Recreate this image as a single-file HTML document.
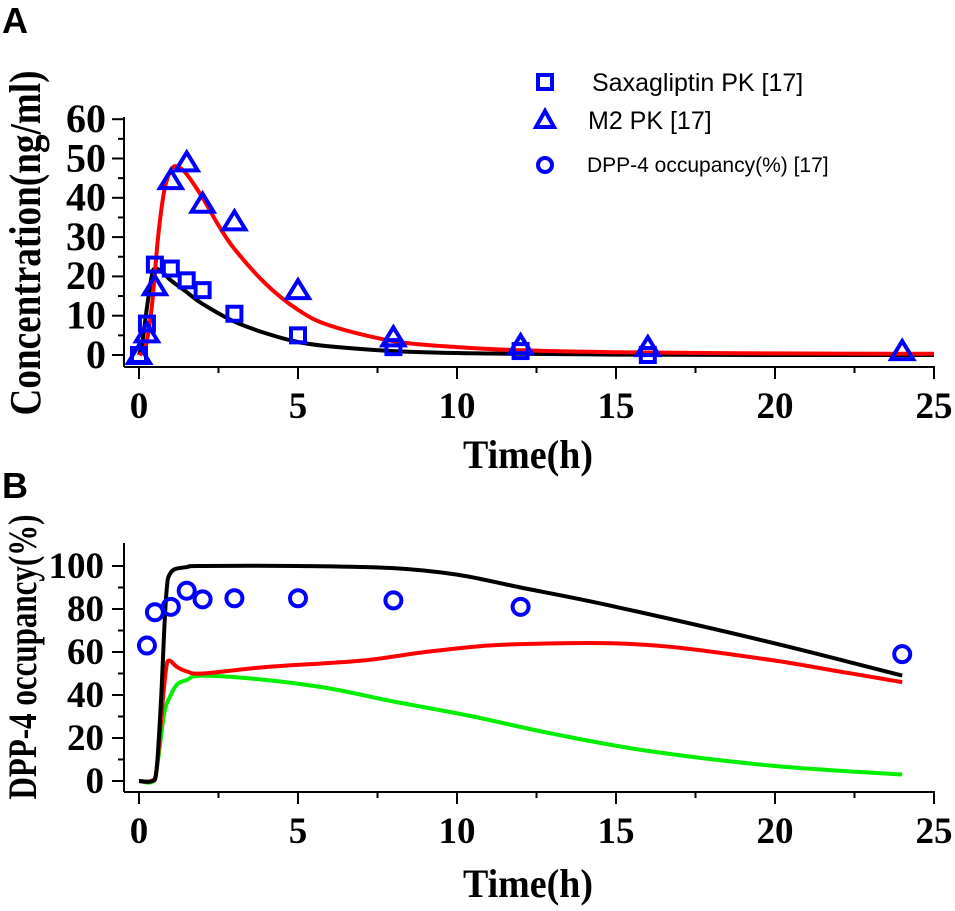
<!DOCTYPE html>
<html><head><meta charset="utf-8"><style>
body{margin:0;background:#fff}
svg{display:block}
.t{font-family:"Liberation Serif",serif;font-weight:bold;fill:#000}
.s{font-family:"Liberation Sans",sans-serif;fill:#000}
</style></head><body>
<svg id="c" width="955" height="911" viewBox="0 0 955 911">
<text x="2" y="33" class="s" font-size="36" font-weight="bold">A</text>
<text x="2" y="498" class="s" font-size="36" font-weight="bold">B</text>
<g id="A"></g>
<g id="B"></g>
<g>
<rect x="538" y="75" width="14" height="14" fill="none" stroke="#00f" stroke-width="4"/>
<text x="592" y="91" class="s" font-size="25">Saxagliptin PK [17]</text>
<polygon points="545,111 536,127 554,127" fill="none" stroke="#00f" stroke-width="4"/>
<text x="588" y="129" class="s" font-size="25">M2 PK [17]</text>
<circle cx="545" cy="165" r="7" fill="none" stroke="#00f" stroke-width="4"/>
<text x="587" y="172" class="s" font-size="21">DPP-4 occupancy(%) [17]</text>
</g>
</svg>
<script>
// Panel A data
const saxT=[0,0.25,0.5,1,1.5,2,3,5,8,12,16];
const saxV=[0,8,23,22,19,16.5,10.5,5,2,1,0];
const m2T=[0,0.25,0.5,1,1.5,2,3,5,8,12,16,24];
const m2V=[0,5.5,17.5,44.5,49,38.5,34,16.5,4.5,2.5,2,1];
const saxFitT=[0,0.1,0.25,0.4,0.5,0.75,1,1.5,2,3,4,5,6,8,10,12,15,20,25];
const saxFitV=[0,3,12,20,22,21,19,16,13,8.5,5.5,3.3,2.2,1,0.5,0.3,0.1,0,0];
const m2FitT=[0,0.2,0.4,0.6,0.8,1,1.2,1.5,2,2.5,3,4,5,6,8,10,12,15,20,25];
const m2FitV=[0,2,12,30,42,47,48,46,40,33,27,18,11.5,7.5,3.5,2,1.2,0.7,0.4,0.3];
const yTicksA=[0,10,20,30,40,50,60];
const xTicks=[0,5,10,15,20,25];
// Panel B data
const occT=[0.25,0.5,1,1.5,2,3,5,8,12,24];
const occV=[63,78.5,81,88.5,84.5,85,85,84,81,59];
const totT=[0,0.4,0.55,0.7,0.85,1,1.5,2,5,8,10,12,15,20,24];
const totV=[0,0,5,40,85,97,99.5,100,100,99,96,90,81,64,49];
const redT=[0,0.4,0.55,0.7,0.85,0.95,1.2,1.5,2,4,7,9,11,13,15,17,20,22,24];
const redV=[0,0,5,30,52,56,53,51,50,53,56,60,63,64,64,62,56,51,46];
const grnT=[0,0.45,0.6,0.8,1,1.2,1.5,2,4,6,8,10.5,13,16,20,24];
const grnV=[0,0,10,32,40,45,47,49,47,43,37,30,22,14,7,3];
const yTicksB=[0,20,40,60,80,100];

const NS="http://www.w3.org/2000/svg";
function el(p,tag,at){const e=document.createElementNS(NS,tag);for(const k in at)e.setAttribute(k,at[k]);p.appendChild(e);return e;}
const xs=v=>139+v*31.8;
const ysA=v=>355-v*3.93;
const ysB=v=>781-v*2.15;

function axes(g,ys,yt,minorStep,axTop,axBot,pfx,o){
  const L=124;
  let e=el(g,'line',{x1:L,y1:axTop,x2:L,y2:axBot,stroke:'#000','stroke-width':2});
  
  
  e=el(g,'line',{x1:L,y1:axBot,x2:935,y2:axBot,stroke:'#000','stroke-width':2});
  
  
  for(let i=0;i<yt.length;i++){
    const y=ys(yt[i]);
    el(g,'line',{x1:L-12,y1:y,x2:L,y2:y,stroke:'#000','stroke-width':2});
    if(i<yt.length-1){const ym=ys(yt[i]+minorStep);el(g,'line',{x1:L-6,y1:ym,x2:L,y2:ym,stroke:'#000','stroke-width':2});}
    const t=el(g,'text',{x:o.yr,y:y+o.yfs*0.32,'text-anchor':'end','font-size':o.yfs,class:'t'});
    t.textContent=yt[i];
    
    
  }
  for(let i=0;i<xTicks.length;i++){
    const x=xs(xTicks[i]);
    el(g,'line',{x1:x,y1:axBot,x2:x,y2:axBot+12,stroke:'#000','stroke-width':2});
    if(i<xTicks.length-1){const xm=xs(xTicks[i]+2.5);el(g,'line',{x1:xm,y1:axBot,x2:xm,y2:axBot+6,stroke:'#000','stroke-width':2});}
    const t=el(g,'text',{x:x,y:axBot+51,'text-anchor':'middle','font-size':37,class:'t'});
    t.textContent=xTicks[i];
    
    
  }
  let t=el(g,'text',{x:528,y:o.xty,'text-anchor':'middle','font-size':40,class:'t',textLength:130,lengthAdjust:'spacingAndGlyphs'});
  t.textContent='Time(h)';
  
  
  t=el(g,'text',{x:0,y:0,'text-anchor':'middle','font-size':o.tfs,class:'t',textLength:o.tlen,lengthAdjust:'spacingAndGlyphs',transform:`translate(${o.tx},${o.tcy}) rotate(-90)`});
  t.textContent=o.title;
  
  
}
function line(g,T,V,ys,color,name){
  const P=T.map((t,i)=>[xs(t),ys(V[i])]);
  let d='M'+P[0][0].toFixed(1)+','+P[0][1].toFixed(1);
  for(let i=0;i<P.length-1;i++){
    const p0=P[Math.max(i-1,0)],p1=P[i],p2=P[i+1],p3=P[Math.min(i+2,P.length-1)];
    const c1=[p1[0]+(p2[0]-p0[0])/6,p1[1]+(p2[1]-p0[1])/6];
    const c2=[p2[0]-(p3[0]-p1[0])/6,p2[1]-(p3[1]-p1[1])/6];
    d+=` C${c1[0].toFixed(1)},${c1[1].toFixed(1)} ${c2[0].toFixed(1)},${c2[1].toFixed(1)} ${p2[0].toFixed(1)},${p2[1].toFixed(1)}`;
  }
  const p=el(g,'path',{d:d,fill:'none',stroke:color,'stroke-width':4,'stroke-linejoin':'round'});
  
  
}
const A=document.getElementById('A'),B=document.getElementById('B');
axes(A,ysA,yTicksA,5,117,367,'panel-a',{yr:106,yfs:40,xty:468,tfs:44,tlen:345,tx:40,tcy:243,title:'Concentration(ng/ml)'});
axes(B,ysB,yTicksB,10,543,792,'panel-b',{yr:104,yfs:37,xty:897,tfs:40,tlen:285,tx:36,tcy:657,title:'DPP-4 occupancy(%)'});
line(A,saxFitT,saxFitV,ysA,'#000','saxagliptin-fit-line');
line(A,m2FitT,m2FitV,ysA,'#f00','m2-fit-line');
for(let i=0;i<saxT.length;i++){
  const x=xs(saxT[i]),y=ysA(saxV[i]);
  const r=el(A,'rect',{x:x-7,y:y-7,width:14,height:14,fill:'none',stroke:'#00f','stroke-width':4});
  
  
}
for(let i=0;i<m2T.length;i++){
  const x=xs(m2T[i]),y=ysA(m2V[i]);
  const p=el(A,'polygon',{points:`${x},${y-10} ${x-11},${y+8} ${x+11},${y+8}`,fill:'none',stroke:'#00f','stroke-width':4});
  
  
}
line(B,grnT,grnV,ysB,'#0e0','green-occupancy-line');
line(B,redT,redV,ysB,'#f00','red-occupancy-line');
line(B,totT,totV,ysB,'#000','total-occupancy-line');
for(let i=0;i<occT.length;i++){
  const c=el(B,'circle',{cx:xs(occT[i]),cy:ysB(occV[i]),r:8,fill:'none',stroke:'#00f','stroke-width':4});
  
  
}
</script>
</body></html>
